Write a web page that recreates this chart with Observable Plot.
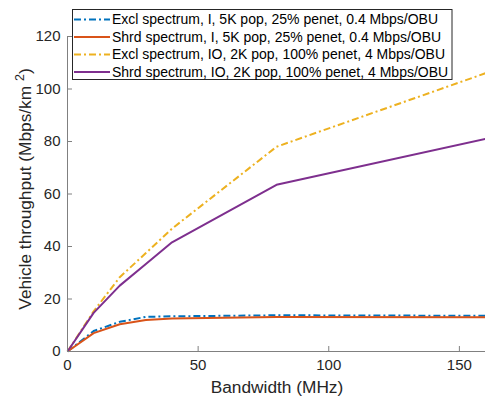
<!DOCTYPE html>
<html>
<head>
<meta charset="utf-8">
<script src="https://cdn.jsdelivr.net/npm/d3@7"></script>
<script src="https://cdn.jsdelivr.net/npm/@observablehq/plot@0.6"></script>
<style>
  html, body { margin: 0; padding: 0; background: #fff; }
  #chart { width: 485px; height: 401px; }
</style>
</head>
<body>
<div id="chart"></div>
<script>
// Data
const bandwidth = [0, 10, 20, 30, 40, 80, 160];
const seriesNames = [
  "Excl spectrum, I, 5K pop, 25% penet, 0.4 Mbps/OBU",
  "Shrd spectrum, I, 5K pop, 25% penet, 0.4 Mbps/OBU",
  "Excl spectrum, IO, 2K pop, 100% penet, 4 Mbps/OBU",
  "Shrd spectrum, IO, 2K pop, 100% penet, 4 Mbps/OBU"
];
const exclI  = [0, 7.8, 11.3, 13.2, 13.4, 13.8, 13.6];
const shrdI  = [0, 7.0, 10.4, 12.0, 12.6, 13.1, 13.0];
const exclIO = [0, 15.3, 28.3, 37.5, 46.8, 78.0, 106.0];
const shrdIO = [0, 14.7, 25.1, 33.3, 41.6, 63.5, 81.0];
const xTicks = [0, 50, 100, 150];
const yTicks = [0, 20, 40, 60, 80, 100, 120];

const colors = ["#0072BD", "#D95319", "#EDB120", "#7E2F8E"];
const dashes = ["7,3,2,3", null, "7,3,2,3", null];
const valuesList = [exclI, shrdI, exclIO, shrdIO];

const rows = [];
valuesList.forEach((vals, s) => {
  vals.forEach((v, i) => rows.push({series: seriesNames[s], idx: s, x: bandwidth[i], y: v}));
});

const lineMarks = valuesList.map((vals, s) =>
  Plot.line(rows.filter(r => r.idx === s), {
    x: "x", y: "y",
    stroke: colors[s],
    strokeWidth: 2,
    strokeDasharray: dashes[s],
    strokeLinejoin: "round",
    strokeLinecap: "butt"
  })
);

const axisColor = "#808080";
const font = "'Liberation Sans', Arial, Helvetica, sans-serif";

const svg = Plot.plot({
  width: 485,
  height: 401,
  marginLeft: 67,
  marginRight: 0,
  marginTop: 36,
  marginBottom: 50,
  style: {fontFamily: font, fontSize: "15px", color: "#262626", background: "#fff"},
  x: {domain: [0, 160]},
  y: {domain: [0, 120]},
  marks: [
    ...lineMarks,
    Plot.ruleX([0], {stroke: axisColor, strokeWidth: 1}),
    Plot.ruleY([0], {stroke: axisColor, strokeWidth: 1}),
    Plot.axisX(xTicks, {tickSize: -5, text: null, stroke: axisColor, label: null}),
    Plot.axisY(yTicks, {tickSize: -5, text: null, stroke: axisColor, label: null}),
    Plot.axisX(xTicks, {tickSize: 0, tickPadding: 8, fill: "#262626", fontSize: 15, label: null}),
    Plot.axisY(yTicks, {tickSize: 0, tickPadding: 7, fill: "#262626", fontSize: 15, label: null})
  ]
});

const root = d3.select(svg);

// X-axis label
root.append("text")
  .attr("x", 277).attr("y", 393)
  .attr("text-anchor", "middle")
  .attr("font-family", font)
  .attr("font-size", 17.3)
  .attr("fill", "#262626")
  .text("Bandwidth (MHz)");

// Y-axis label with superscript
const yl = root.append("text")
  .attr("transform", "translate(31,189) rotate(-90)")
  .attr("text-anchor", "middle")
  .attr("font-family", font)
  .attr("font-size", 17.3)
  .attr("fill", "#262626");
yl.append("tspan").text("Vehicle throughput (Mbps/km ");
yl.append("tspan").attr("dy", -7).attr("font-size", 12.5).text("2");
yl.append("tspan").attr("dy", 7).text(")");

// Legend
const lg = root.append("g").attr("font-family", font).attr("font-size", 14)
  .attr("fill", "#000").attr("text-anchor", "start");
lg.append("rect").attr("x", 72.5).attr("y", 9.5).attr("width", 379.5).attr("height", 70)
  .attr("fill", "#fff").attr("stroke", "#262626").attr("stroke-width", 1);
seriesNames.forEach((name, s) => {
  const yy = 19.5 + s * 17.5;
  lg.append("line").attr("x1", 74).attr("x2", 110).attr("y1", yy).attr("y2", yy)
    .attr("stroke", colors[s]).attr("stroke-width", 2)
    .attr("stroke-dasharray", dashes[s]);
  lg.append("text").attr("x", 112).attr("y", yy).attr("dy", "0.35em")
    .attr("text-anchor", "start").text(name);
});

document.getElementById("chart").appendChild(svg);
</script>
</body>
</html>
